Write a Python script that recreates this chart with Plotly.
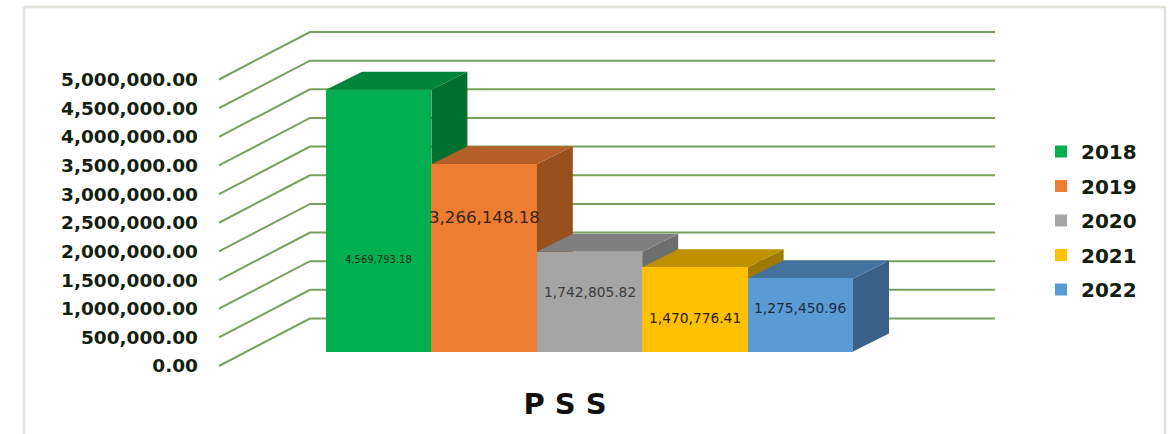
import plotly.graph_objects as go

# ---- data ----
years = ["2018", "2019", "2020", "2021", "2022"]
values = [4569793.18, 3266148.18, 1742805.82, 1470776.41, 1275450.96]
value_labels = ["4,569,793.18", "3,266,148.18", "1,742,805.82", "1,470,776.41", "1,275,450.96"]
tick_values = [0, 500000, 1000000, 1500000, 2000000, 2500000, 3000000, 3500000, 4000000, 4500000, 5000000]
title_text = "P S S"

# ---- style ----
front_colors = ["#00B050", "#ED7D31", "#A5A5A5", "#FFC000", "#5B9BD5"]
top_colors = ["#00853A", "#B55E25", "#7F7F7F", "#BF9000", "#44729F"]
side_colors = ["#00702F", "#98501E", "#6E6E6E", "#A07A00", "#3A6288"]
label_sizes = [10, 16.6, 13.8, 13.8, 13.8]
label_colors = ["#0b2a14", "#3a2410", "#3c3c3c", "#2a2000", "#1c2c40"]
label_fracs = [0.35, 0.714, 0.595, 0.397, 0.595]
GRID = "#76A05C"
TEXT = "#14200f"
FONT = "DejaVu Sans"

W, H = 1173, 434
X_PX0, X_PX = 378.7, 105.4       # pixel of category 0, pixels per category
Y_BASE = 351.5                   # pixel of the bars' baseline
K = 57.3e-6                      # pixels per unit of value
Y_AXIS_BASE = 366                # pixel of value 0 on the labelled axis


def dx(px):
    return px / X_PX


def dv(px):
    return px / K


DEPTH_X, DEPTH_V = dx(36), dv(18)
x_range = [-X_PX0 / X_PX, (W - X_PX0) / X_PX]
y_range = [-(H - Y_BASE) / K, Y_BASE / K]
y2_range = [-(H - Y_AXIS_BASE) / K, Y_AXIS_BASE / K]

GRID_X = [-1.515, -0.652, 5.847]
GRID_DV = [-dv(14.5), dv(33), dv(33)]


def path(points):
    return "M " + " L ".join(f"{x},{y}" for x, y in points) + " Z"


shapes = []
for t in tick_values:
    shapes.append(dict(
        type="path", xref="x", yref="y", layer="below",
        path="M " + " L ".join(f"{x},{t + d}" for x, d in zip(GRID_X, GRID_DV)),
        line=dict(color=GRID, width=2), fillcolor="rgba(0,0,0,0)",
    ))

for i, v in enumerate(values):
    l, r = i - 0.5, i + 0.5
    shapes.append(dict(
        type="path", xref="x", yref="y", layer="below", line=dict(width=0),
        fillcolor=side_colors[i],
        path=path([(r, 0), (r + DEPTH_X, DEPTH_V), (r + DEPTH_X, v + DEPTH_V), (r, v)]),
    ))
    shapes.append(dict(
        type="path", xref="x", yref="y", layer="below", line=dict(width=0),
        fillcolor=top_colors[i],
        path=path([(l, v), (l + DEPTH_X, v + DEPTH_V), (r + DEPTH_X, v + DEPTH_V), (r, v)]),
    ))

# chart frame
frame = "#DFE3DC"
for x0, y0, x1, y1 in [(24, 7, 24, H + 5), (24, 7, 1165, 7), (1165, 7, 1165, H + 5)]:
    shapes.append(dict(
        type="line", xref="paper", yref="paper",
        x0=x0 / W, x1=x1 / W, y0=1 - y0 / H, y1=1 - y1 / H,
        line=dict(color=frame, width=2.5),
    ))

fig = go.Figure()
for i, (year, v) in enumerate(zip(years, values)):
    fig.add_trace(go.Bar(
        x=[i], y=[v], width=1, name=year, legendgroup=year,
        marker=dict(color=front_colors[i], line=dict(width=0)),
        hovertemplate=value_labels[i] + "<extra>" + year + "</extra>",
    ))

# keeps the labelled value axis alive
fig.add_trace(go.Scatter(x=[0], y=[0], yaxis="y2", mode="none", showlegend=False, hoverinfo="skip"))

annotations = [
    dict(x=i, y=v * f, xref="x", yref="y", text=t, showarrow=False,
         font=dict(family=FONT, size=s, color=c), xanchor="center", yanchor="middle")
    for i, (v, f, t, s, c) in enumerate(zip(values, label_fracs, value_labels, label_sizes, label_colors))
]

fig.update_layout(
    width=W, height=H, autosize=False,
    margin=dict(l=0, r=0, t=0, b=0, pad=0),
    paper_bgcolor="white", plot_bgcolor="rgba(0,0,0,0)",
    barmode="overlay", bargap=0,
    font=dict(family=FONT, color=TEXT),
    title=dict(text=title_text, x=565 / W, y=1 - 404 / H, xanchor="center", yanchor="middle",
               font=dict(family=FONT, size=29, color="#111111", weight="bold")),
    xaxis=dict(visible=False, range=x_range, fixedrange=True),
    yaxis=dict(visible=False, range=y_range, fixedrange=True),
    yaxis2=dict(
        overlaying="y", anchor="free", side="left", position=198 / W,
        range=y2_range, tickvals=tick_values, tickformat=",.2f",
        showgrid=False, zeroline=False, showline=False, ticks="", fixedrange=True,
        tickfont=dict(family=FONT, size=18.5, color=TEXT, weight="bold"),
    ),
    legend=dict(
        x=1041 / W, y=1 - 132 / H, xanchor="left", yanchor="top",
        bgcolor="rgba(0,0,0,0)", tracegroupgap=5.5, itemclick=False, itemdoubleclick=False,
        font=dict(family=FONT, size=20, color=TEXT, weight="bold"),
    ),
    shapes=shapes, annotations=annotations, showlegend=True,
)

fig.write_html("out.html", config={"displayModeBar": False},
               post_script="document.body.style.margin='0';document.body.style.overflow='hidden';")
